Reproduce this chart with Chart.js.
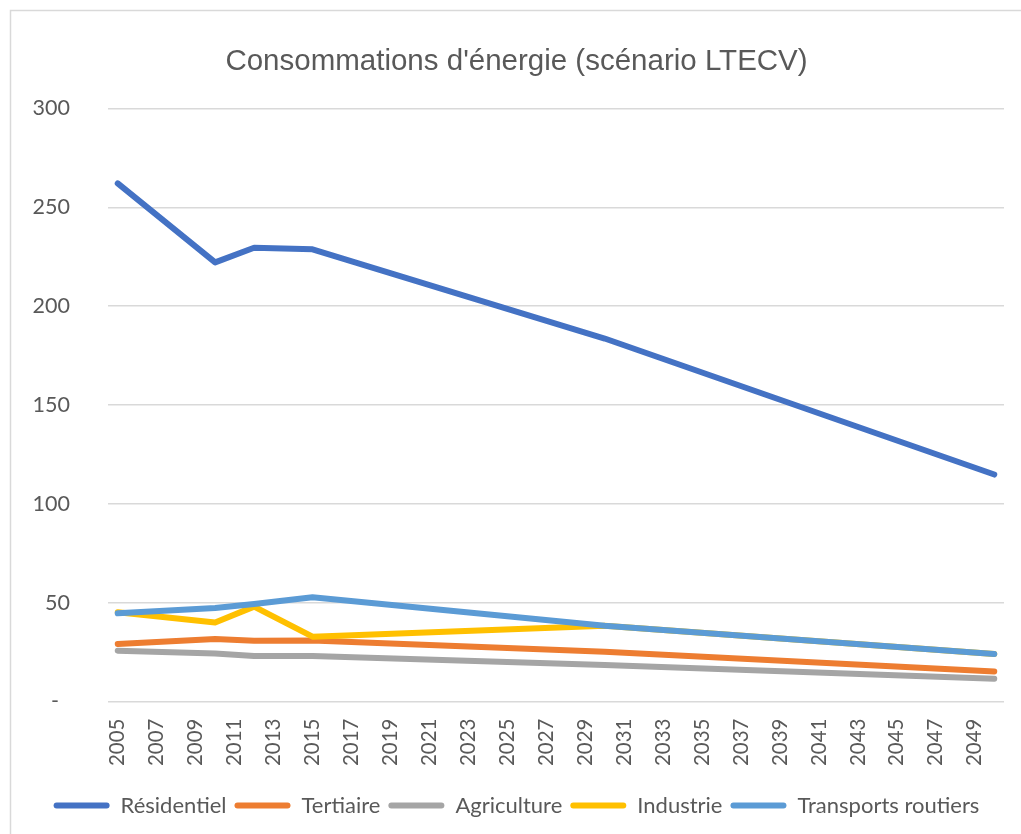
<!DOCTYPE html>
<html>
<head>
<meta charset="utf-8">
<script src="https://cdn.jsdelivr.net/npm/chart.js@4.4.1/dist/chart.umd.min.js"></script>
<style>
  html, body { margin: 0; padding: 0; background: #ffffff; }
  canvas { display: block; }
</style>
</head>
<body>
<canvas id="c" width="1021" height="834"></canvas>
<script>
// ---- Data ----
const years = [2005, 2010, 2012, 2015, 2030, 2050];
const residentiel = [262.1, 222.1, 229.5, 228.7, 183.6, 114.8];
const tertiaire   = [29.1, 31.6, 30.7, 30.9, 25.2, 15.2];
const agriculture = [25.7, 24.3, 23.0, 23.0, 18.4, 11.5];
const industrie   = [45.1, 40.0, 48.0, 32.8, 38.3, 24.0];
const transports  = [44.6, 47.3, 49.3, 52.7, 38.3, 24.0];

const seriesNames = ['Résidentiel', 'Tertiaire', 'Agriculture', 'Industrie', 'Transports routiers'];
const xTickYears = [2005, 2007, 2009, 2011, 2013, 2015, 2017, 2019, 2021, 2023, 2025,
                    2027, 2029, 2031, 2033, 2035, 2037, 2039, 2041, 2043, 2045, 2047, 2049];
const yTickValues = [0, 50, 100, 150, 200, 250, 300];
const yTickLabels = ['-  ', '50', '100', '150', '200', '250', '300'];
const titleText = "Consommations d'énergie (scénario LTECV)";

const colors = ['#4472C4', '#ED7D31', '#A5A5A5', '#FFC000', '#5B9BD5'];
const textColor = '#595959';
const gridColor = '#D9D9D9';

function pts(arr) { return years.map((y, i) => ({ x: y, y: arr[i] })); }
const allSeries = [residentiel, tertiaire, agriculture, industrie, transports];

const datasets = allSeries.map((s, i) => ({
  label: seriesNames[i],
  data: pts(s),
  borderColor: colors[i],
  backgroundColor: colors[i],
  borderWidth: 6,
  pointRadius: 0,
  pointHoverRadius: 0,
  tension: 0,
  borderCapStyle: 'round',
  borderJoinStyle: 'round',
  order: allSeries.length - 1 - i
}));

const frame = {
  id: 'frame',
  beforeDraw(chart) {
    const ctx = chart.ctx;
    ctx.save();
    ctx.fillStyle = '#ffffff';
    ctx.fillRect(0, 0, chart.width, chart.height);
    ctx.strokeStyle = '#D9D9D9';
    ctx.lineWidth = 1.5;
    ctx.strokeRect(10.5, 10.5, 1040, 860);
    ctx.restore();
  }
};

const tickFont = "Lato, 'Open Sans', sans-serif";

new Chart(document.getElementById('c'), {
  type: 'line',
  data: { datasets },
  plugins: [frame],
  options: {
    responsive: false,
    animation: false,
    layout: { padding: { left: 29, right: 17, top: 0, bottom: 7.5 } },
    plugins: {
      tooltip: { enabled: false },
      title: {
        display: true,
        text: titleText,
        color: textColor,
        font: { family: "'Liberation Sans', Arial, sans-serif", size: 29.5, weight: 'normal', lineHeight: 1.2 },
        padding: { top: 44, bottom: 29 }
      },
      legend: {
        position: 'bottom',
        labels: {
          color: textColor,
          font: { family: tickFont, size: 22 },
          boxWidth: 56,
          boxHeight: 6,
          padding: 8,
          useBorderRadius: true,
          borderRadius: 3,
          sort: (a, b) => a.datasetIndex - b.datasetIndex,
          generateLabels: (chart) => {
            const items = Chart.defaults.plugins.legend.labels.generateLabels(chart);
            items.forEach(it => {
              it.lineWidth = 0;
              it.strokeStyle = 'rgba(0,0,0,0)';
              it.fillStyle = colors[it.datasetIndex];
            });
            return items;
          }
        }
      }
    },
    scales: {
      x: {
        type: 'linear',
        min: 2004.5,
        max: 2050.5,
        afterBuildTicks: (scale) => { scale.ticks = xTickYears.map(v => ({ value: v })); },
        afterFit: (scale) => { scale.height = 85; },
        grid: { display: false, drawTicks: false },
        border: { display: false },
        ticks: {
          autoSkip: false,
          minRotation: 90,
          maxRotation: 90,
          padding: 17,
          color: textColor,
          font: { family: tickFont, size: 20.5 },
          callback: (v) => String(v)
        }
      },
      y: {
        min: 0,
        max: 300,
        afterBuildTicks: (scale) => { scale.ticks = yTickValues.map(v => ({ value: v })); },
        afterFit: (scale) => { scale.width = 79; },
        grid: { color: gridColor, lineWidth: 1.5, drawTicks: false },
        border: { display: false },
        ticks: {
          padding: 38,
          color: textColor,
          font: { family: tickFont, size: 21.5 },
          callback: (v) => yTickLabels[yTickValues.indexOf(v)]
        }
      }
    }
  }
});
</script>
</body>
</html>
